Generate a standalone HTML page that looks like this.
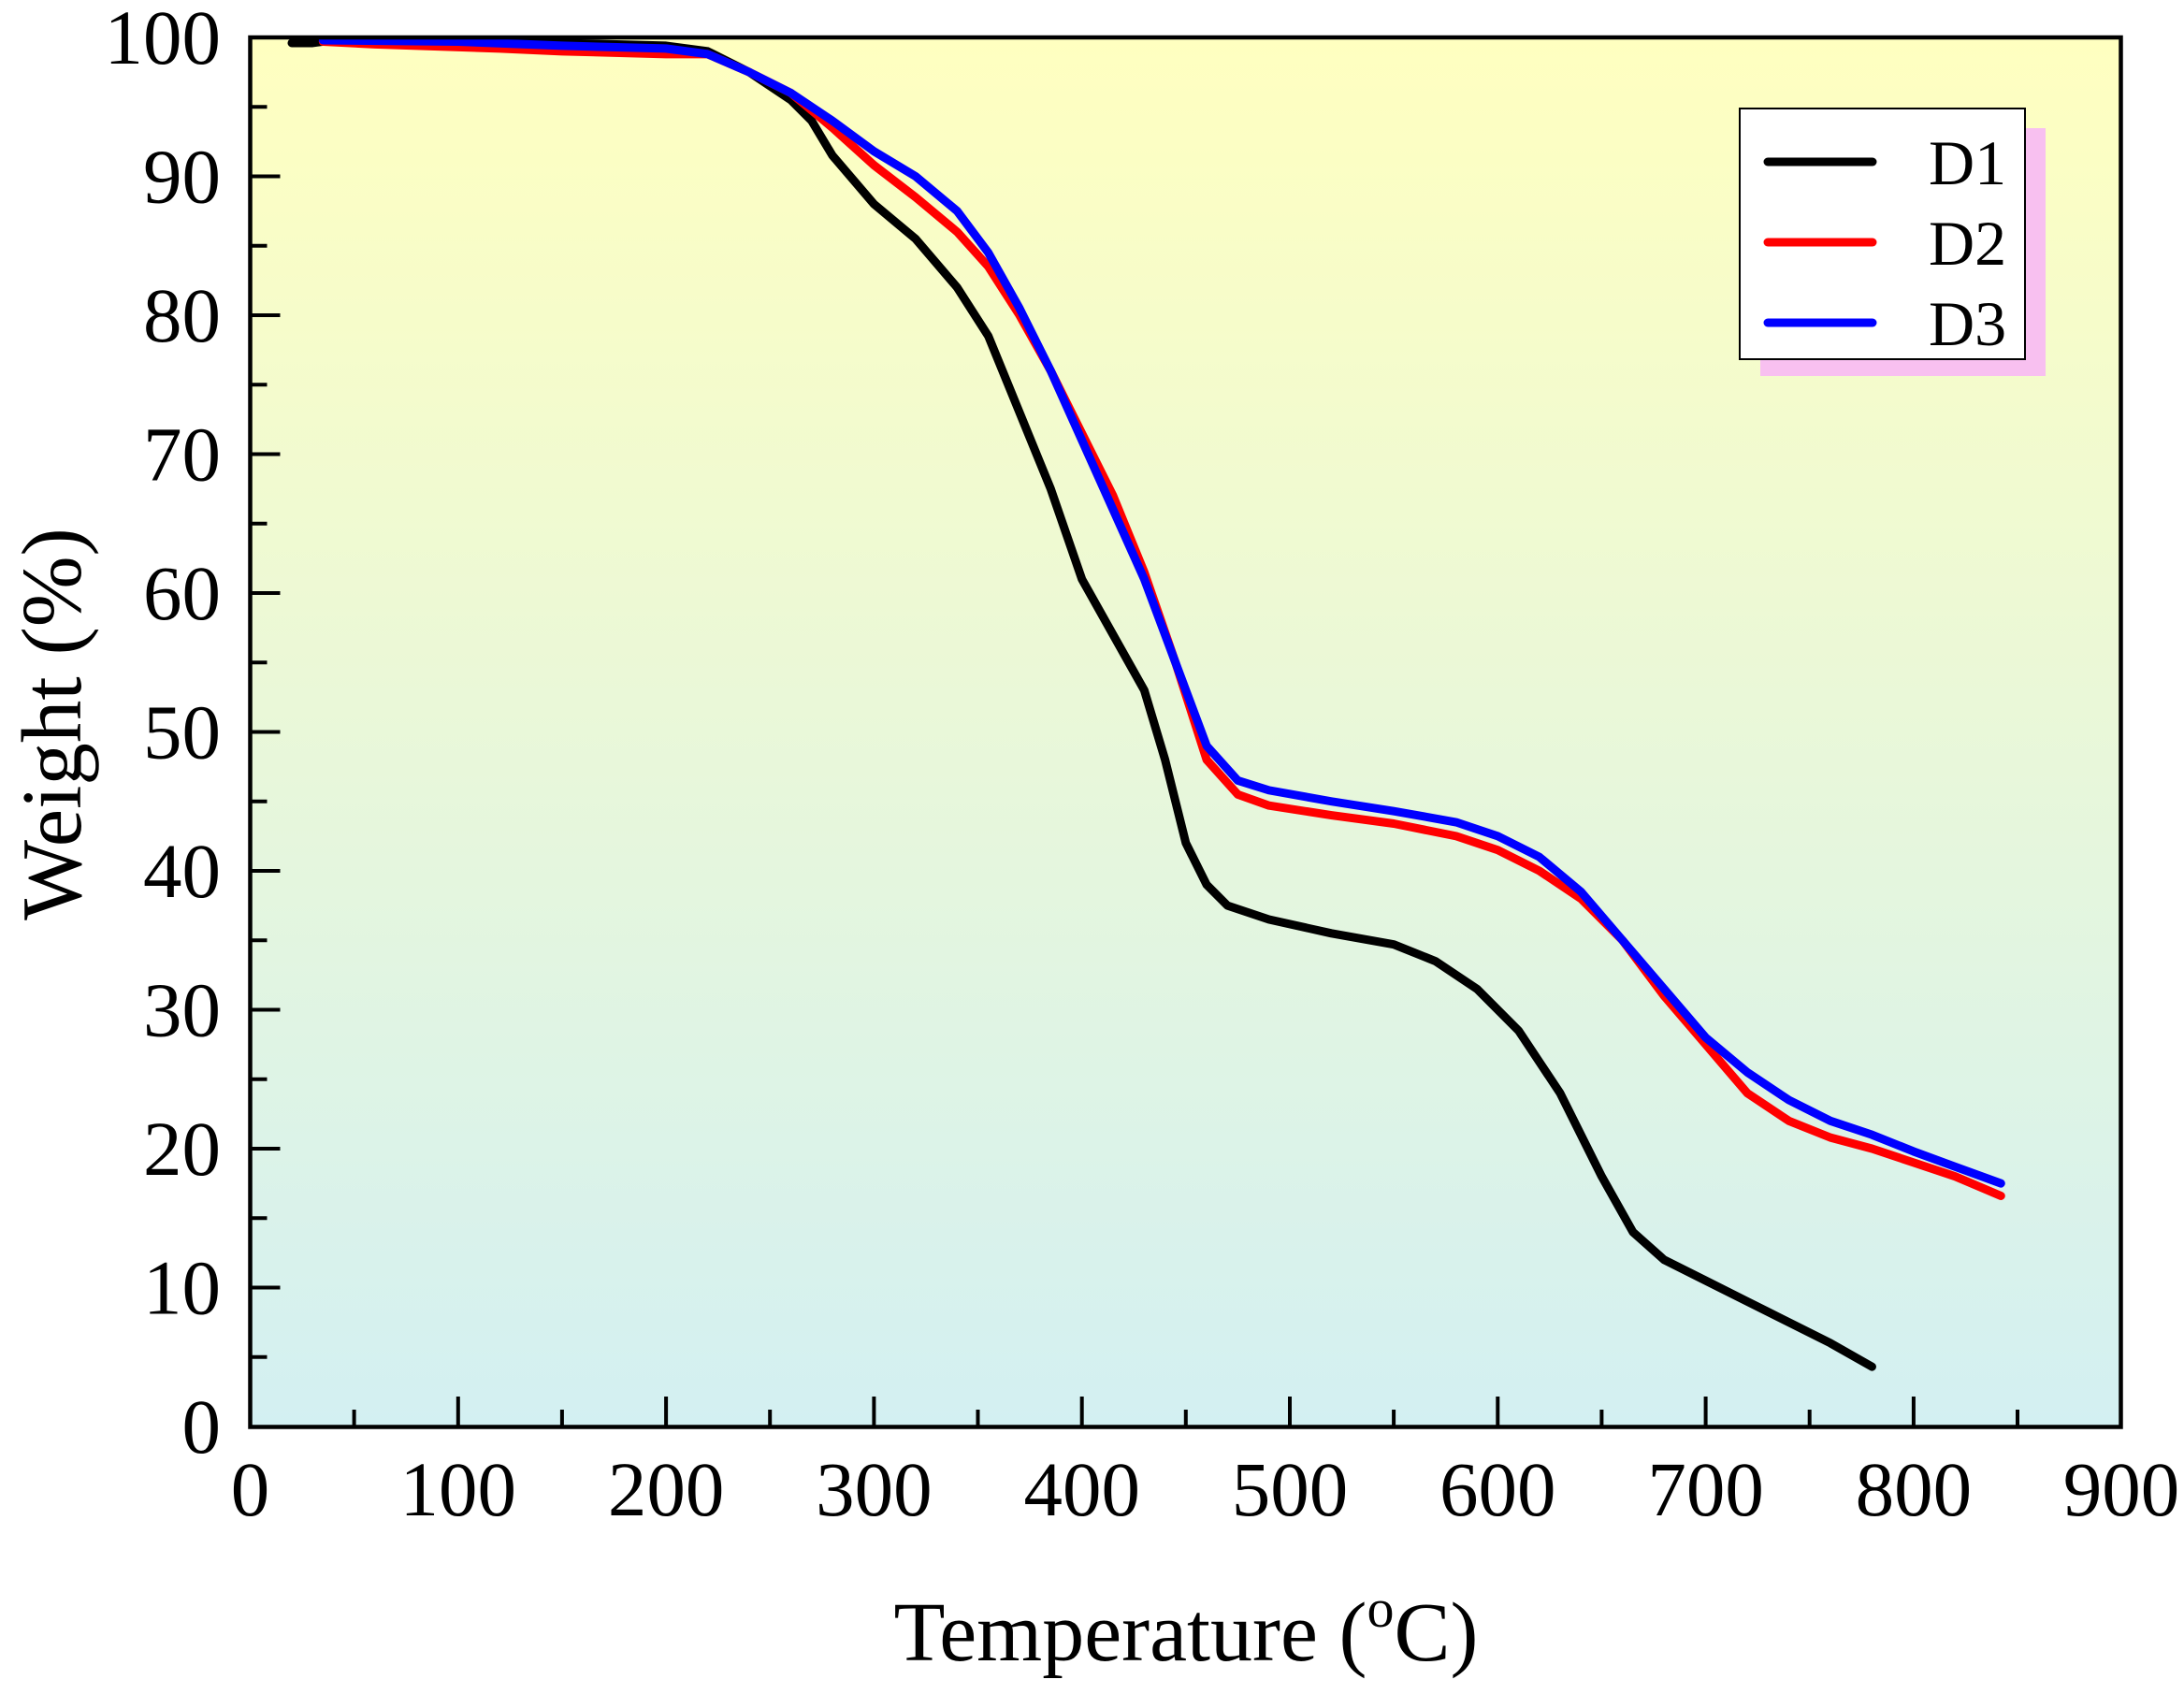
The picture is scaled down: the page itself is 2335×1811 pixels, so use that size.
<!DOCTYPE html>
<html><head><meta charset="utf-8"><style>
html,body{margin:0;padding:0;background:#fff}
svg{display:block}
text{font-family:"Liberation Serif",serif;fill:#000}
</style></head><body>
<svg width="2335" height="1811" viewBox="0 0 2335 1811" xmlns="http://www.w3.org/2000/svg">
<defs>
<linearGradient id="bg" x1="0" y1="0" x2="0" y2="1">
<stop offset="0" stop-color="#FFFFC0"/>
<stop offset="1" stop-color="#D3F0F2"/>
</linearGradient>
</defs>
<rect x="267.5" y="40" width="2000" height="1485.5" fill="url(#bg)"/>
<svg x="267.5" y="40" width="2000.7" height="1485" viewBox="0 0 900 100" preserveAspectRatio="none" overflow="visible">
<g fill="none" stroke-linecap="round" stroke-linejoin="round">
<polyline vector-effect="non-scaling-stroke" stroke="#000" stroke-width="9" points="20,0.4 30,0.4 35,0.3 100,0.3 150,0.4 200,0.6 220,1 240,2.5 260,4.5 270,6 280,8.5 300,12 320,14.5 340,18 355,21.5 370,27 385,32.5 400,39 415,43 430,47 440,52 450,58 460,61 470,62.5 490,63.5 520,64.5 550,65.3 570,66.5 590,68.5 610,71.5 630,76 650,82 665,86 680,88 700,89.5 720,91 740,92.5 760,94 780,95.7"/>
<polyline vector-effect="non-scaling-stroke" stroke="#FF0000" stroke-width="9" points="35,0.3 60,0.5 120,0.8 150,1 200,1.2 220,1.2 240,2.5 260,4 280,6.5 300,9.2 320,11.5 340,14 355,16.5 370,20 385,24 400,28.5 415,33 430,38.5 445,45 460,52 475,54.5 490,55.3 520,56 550,56.6 580,57.5 600,58.5 620,60 640,62 660,65 680,69 700,72.5 720,76 740,78 760,79.2 780,80 800,81 820,82 842,83.4"/>
<polyline vector-effect="non-scaling-stroke" stroke="#0000FF" stroke-width="9" points="35,0.2 100,0.3 150,0.6 200,0.8 220,1.2 240,2.5 260,4 280,6 300,8.2 320,10 340,12.5 355,15.5 370,19.5 385,24 400,29 415,34 430,39 445,45 460,51 475,53.5 490,54.2 520,55 550,55.7 580,56.5 600,57.5 620,59 640,61.5 660,65 680,68.5 700,72 720,74.5 740,76.5 760,78 780,79 800,80.2 820,81.3 842,82.5"/>
</g>
</svg>
<rect x="267.5" y="40" width="2000" height="1485.5" fill="none" stroke="#000" stroke-width="4.5"/>
<g stroke="#000" stroke-width="4">
<path d="M267.5,1525v-32M489.8,1525v-32M712.1,1525v-32M934.4,1525v-32M1156.7,1525v-32M1379,1525v-32M1601.3,1525v-32M1823.6,1525v-32M2045.9,1525v-32"/>
<path d="M378.6,1525v-18M600.9,1525v-18M823.2,1525v-18M1045.5,1525v-18M1267.8,1525v-18M1490.1,1525v-18M1712.4,1525v-18M1934.7,1525v-18M2157,1525v-18"/>
<path d="M267.5,188.5h32M267.5,337h32M267.5,485.5h32M267.5,634h32M267.5,782.5h32M267.5,931h32M267.5,1079.5h32M267.5,1228h32M267.5,1376.5h32"/>
<path d="M267.5,114.2h18M267.5,262.7h18M267.5,411.2h18M267.5,559.7h18M267.5,708.2h18M267.5,856.7h18M267.5,1005.2h18M267.5,1153.7h18M267.5,1302.2h18M267.5,1450.7h18"/>
</g>
<g font-size="83" text-anchor="end" dominant-baseline="central">
<text x="236" y="40">100</text>
<text x="236" y="188.5">90</text>
<text x="236" y="337">80</text>
<text x="236" y="485.5">70</text>
<text x="236" y="634">60</text>
<text x="236" y="782.5">50</text>
<text x="236" y="931">40</text>
<text x="236" y="1079.5">30</text>
<text x="236" y="1228">20</text>
<text x="236" y="1376.5">10</text>
<text x="236" y="1525">0</text>
</g>
<g font-size="83" text-anchor="middle">
<text x="267.5" y="1620">0</text>
<text x="489.8" y="1620">100</text>
<text x="712.1" y="1620">200</text>
<text x="934.4" y="1620">300</text>
<text x="1156.7" y="1620">400</text>
<text x="1379" y="1620">500</text>
<text x="1601.3" y="1620">600</text>
<text x="1823.6" y="1620">700</text>
<text x="2045.9" y="1620">800</text>
<text x="2268" y="1620">900</text>
</g>
<text x="1268" y="1775" font-size="90" text-anchor="middle">Temperature (<tspan font-size="58" dy="-36">o</tspan><tspan dy="36">C)</tspan></text>
<text transform="translate(86,774) rotate(-90)" font-size="91" text-anchor="middle">Weight (%)</text>
<rect x="1882" y="137" width="305" height="265" fill="#F8C0F0"/>
<rect x="1860" y="116" width="305" height="268" fill="#fff" stroke="#000" stroke-width="2"/>
<g stroke-width="9" stroke-linecap="round">
<line x1="1890" y1="173" x2="2002" y2="173" stroke="#000"/>
<line x1="1890" y1="259" x2="2002" y2="259" stroke="#FF0000"/>
<line x1="1890" y1="345" x2="2002" y2="345" stroke="#0000FF"/>
</g>
<g font-size="68">
<text x="2062" y="197">D1</text>
<text x="2062" y="283">D2</text>
<text x="2062" y="369">D3</text>
</g>
</svg>
</body></html>
